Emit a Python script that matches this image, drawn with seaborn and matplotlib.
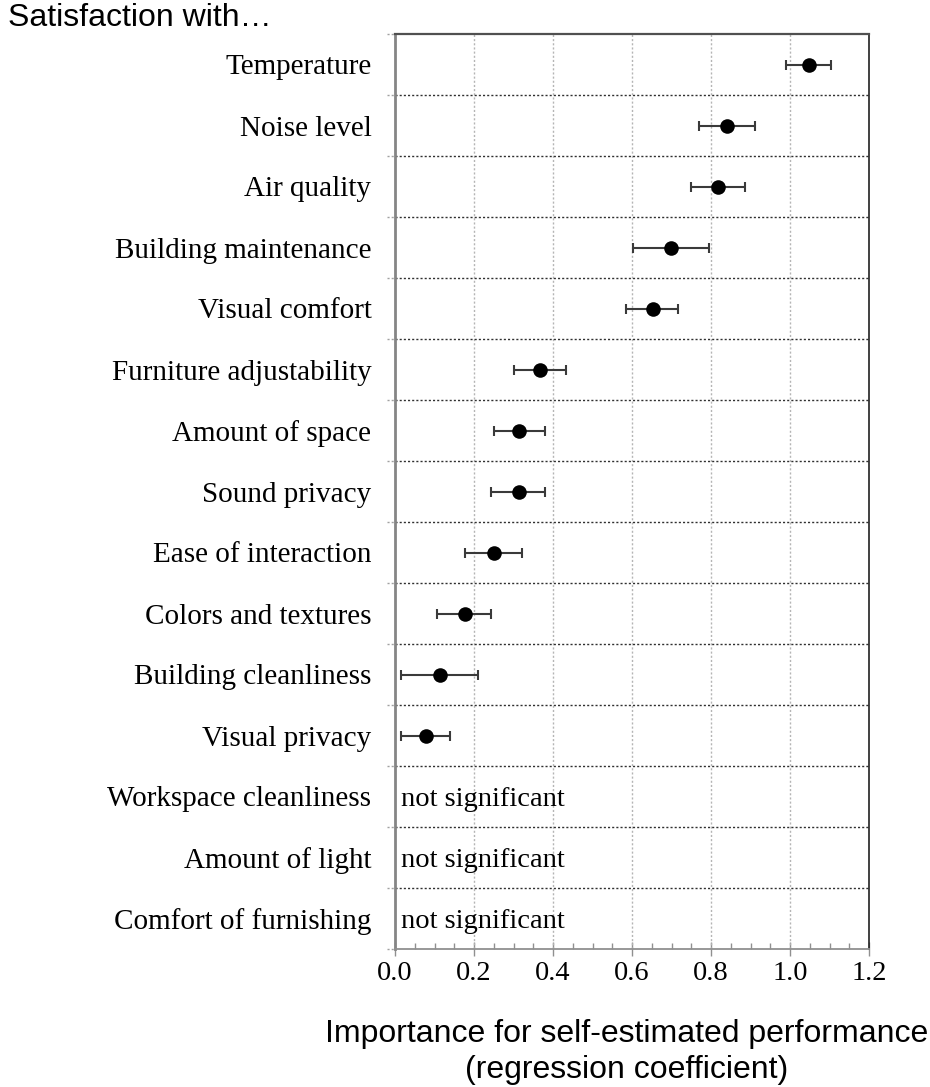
import numpy as np
import pandas as pd
import matplotlib
matplotlib.use("Agg")
import matplotlib.pyplot as plt
import matplotlib.transforms as mtransforms
from matplotlib.ticker import MultipleLocator
import seaborn as sns

# ---- data ----
categories = [
    "Temperature", "Noise level", "Air quality", "Building maintenance",
    "Visual comfort", "Furniture adjustability", "Amount of space",
    "Sound privacy", "Ease of interaction", "Colors and textures",
    "Building cleanliness", "Visual privacy", "Workspace cleanliness",
    "Amount of light", "Comfort of furnishing",
]
coef = [1.048, 0.840, 0.818, 0.698, 0.652, 0.367, 0.314, 0.314, 0.251,
        0.177, 0.114, 0.078, np.nan, np.nan, np.nan]
ci_low = [0.989, 0.770, 0.749, 0.602, 0.584, 0.300, 0.250, 0.243, 0.177,
          0.106, 0.014, 0.014, np.nan, np.nan, np.nan]
ci_high = [1.104, 0.911, 0.885, 0.795, 0.716, 0.433, 0.380, 0.380, 0.322,
           0.243, 0.211, 0.138, np.nan, np.nan, np.nan]
x_ticks = [0.0, 0.2, 0.4, 0.6, 0.8, 1.0, 1.2]
x_tick_labels = ["0.0", "0.2", "0.4", "0.6", "0.8", "1.0", "1.2"]
ns_text = "not significant"
title_text = "Satisfaction with…"
xlabel_text = "Importance for self-estimated performance\n(regression coefficient)"

df = pd.DataFrame({"item": categories, "coef": coef,
                   "lo": ci_low, "hi": ci_high})
df["pos"] = np.arange(len(df))

sns.set_theme(style="white")
plt.rcParams["font.family"] = ["Liberation Serif", "DejaVu Serif"]

W, H = 930, 1087
fig = plt.figure(figsize=(W / 100, H / 100), dpi=100)
ax = fig.add_axes([395 / W, 1 - 949 / H, (869 - 395) / W, (949 - 34) / H])

n = len(categories)
ax.set_xlim(0, 1.2)
ax.set_ylim(n - 0.5, -0.5)

# vertical grid lines
for xv in x_ticks[1:-1]:
    ax.axvline(xv, color="#b5b5b5", lw=1.0, ls=(0, (1.5, 1.5)), zorder=1)

# horizontal separators (with small stubs outside the left spine)
trans = mtransforms.blended_transform_factory(ax.transAxes, ax.transData)
stub = -8 / 474
for b in np.arange(-0.5, n, 1.0):
    ax.plot([stub, 0], [b, b], transform=trans, color="#a0a0a0", lw=1.0,
            ls=(0, (1.5, 1.5)), clip_on=False, zorder=1)
    if -0.5 < b < n - 0.5:
        ax.plot([0, 1], [b, b], transform=trans, color="#303030", lw=1.0,
                ls=(0, (1.5, 1.5)), zorder=1)

sig = df.dropna(subset=["coef"])
ax.errorbar(sig["coef"], sig["pos"],
            xerr=[sig["coef"] - sig["lo"], sig["hi"] - sig["coef"]],
            fmt="none", ecolor="#3a3a3a", elinewidth=1.5, capsize=3.4,
            capthick=1.5, zorder=3)
sns.scatterplot(data=sig, x="coef", y="pos", ax=ax, color="black", s=110,
                edgecolor="black", linewidth=0, zorder=4, legend=False)

for _, r in df[df["coef"].isna()].iterrows():
    ax.text(0.015, r["pos"], ns_text, ha="left", va="center_baseline",
            fontsize=20.5, color="black", zorder=5)

ax.set_yticks(df["pos"])
ax.set_yticklabels(categories, fontsize=21, color="black")
ax.tick_params(axis="y", length=0, pad=17)

ax.set_xticks(x_ticks)
ax.set_xticklabels(x_tick_labels, fontsize=20.5, color="black")
ax.xaxis.set_minor_locator(MultipleLocator(0.05))
ax.tick_params(axis="x", which="major", direction="inout", length=10,
               width=1.0, color="#909090", pad=4, bottom=True)
ax.tick_params(axis="x", which="minor", direction="in", length=4.3,
               width=1.0, color="#909090", bottom=True)
ax.set_xlabel("")
ax.set_ylabel("")
ax.grid(False)

ax.spines["left"].set_color("#858585")
ax.spines["left"].set_linewidth(2.0)
ax.spines["top"].set_color("#505050")
ax.spines["top"].set_linewidth(1.6)
ax.spines["right"].set_color("#202020")
ax.spines["right"].set_linewidth(1.2)
ax.spines["bottom"].set_color("#909090")
ax.spines["bottom"].set_linewidth(1.3)

fig.text(8 / W, 1 - 3 / H, title_text, ha="left", va="top", fontsize=23,
         family=["Liberation Sans", "DejaVu Sans"], color="black")
fig.text(627 / W, 1 - 1052 / H, xlabel_text, ha="center", va="center",
         fontsize=23, family=["Liberation Sans", "DejaVu Sans"],
         color="black", linespacing=1.22)

fig.savefig("out.png", dpi=100, facecolor="white")
